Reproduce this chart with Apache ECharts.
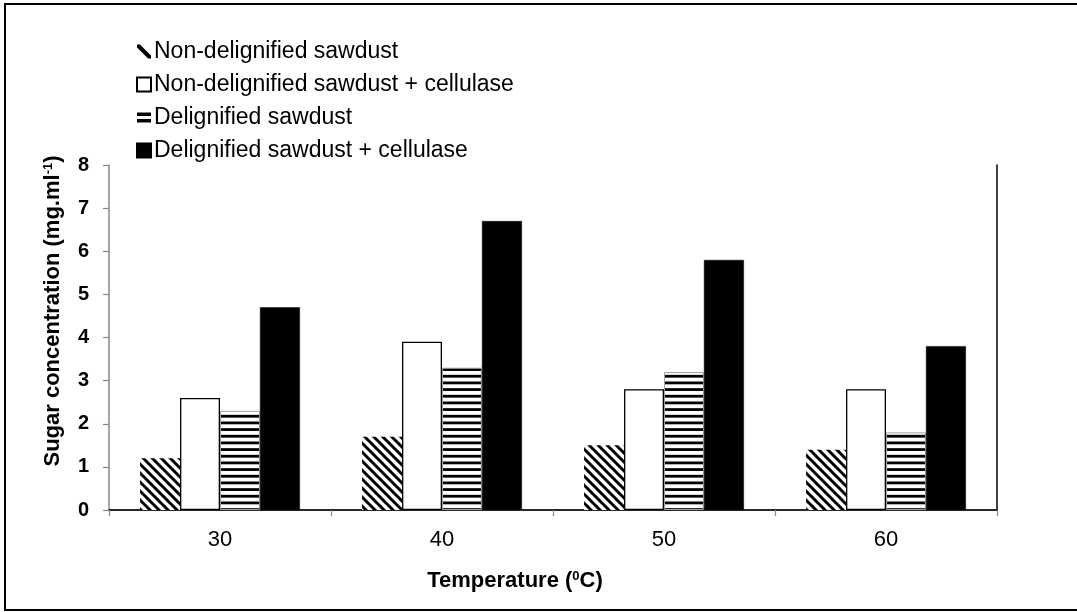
<!DOCTYPE html>
<html>
<head>
<meta charset="utf-8">
<script src="https://cdn.jsdelivr.net/npm/echarts@6/dist/echarts.min.js"></script>
<style>
  html, body { margin: 0; padding: 0; background: #fff; }
  #chart { width: 1077px; height: 612px; }
</style>
</head>
<body>
<div id="chart"></div>
<script>
// Sugar released from sawdust at different incubation temperatures
const temperatures = ['30', '40', '50', '60'];
const nonDelignified = [1.2, 1.7, 1.5, 1.4];
const nonDelignifiedCellulase = [2.6, 3.9, 2.8, 2.8];
const delignified = [2.3, 3.3, 3.2, 1.8];
const delignifiedCellulase = [4.7, 6.7, 5.8, 3.8];
const seriesNames = [
  'Non-delignified sawdust',
  'Non-delignified sawdust + cellulase',
  'Delignified sawdust',
  'Delignified sawdust + cellulase'
];

const FONT = '"Liberation Sans", Arial, sans-serif';

// Diagonal hatching ("\" direction) for the untreated sawdust bars
function diagonalPattern() {
  const s = 9;
  const c = document.createElement('canvas');
  c.width = s; c.height = s;
  const ctx = c.getContext('2d');
  ctx.fillStyle = '#fff';
  ctx.fillRect(0, 0, s, s);
  ctx.strokeStyle = '#000';
  ctx.lineWidth = 3;
  for (let a = -s; a <= s; a += s) {
    ctx.beginPath();
    ctx.moveTo(a - 1, -1);
    ctx.lineTo(a + s + 1, s + 1);
    ctx.stroke();
  }
  return c;
}

// Horizontal stripes for the delignified sawdust bars
function horizontalPattern() {
  const h = 20, w = 4;
  const c = document.createElement('canvas');
  c.width = w; c.height = h;
  const ctx = c.getContext('2d');
  ctx.fillStyle = '#fff';
  ctx.fillRect(0, 0, w, h);
  ctx.fillStyle = '#000';
  const period = h / 3;
  for (let i = 0; i < 3; i++) {
    ctx.fillRect(0, i * period + 1.5, w, 2.8);
  }
  return c;
}

const hatch = { image: diagonalPattern(), repeat: 'repeat' };
const stripes = { image: horizontalPattern(), repeat: 'repeat' };

const chart = echarts.init(document.getElementById('chart'), null, { renderer: 'canvas' });

const barBase = {
  type: 'bar',
  barGap: '0%',
  barCategoryGap: '28%',
  xAxisIndex: 0,
  yAxisIndex: 0
};

chart.setOption({
  animation: false,
  backgroundColor: '#fff',
  textStyle: { fontFamily: FONT },
  legend: {
    orient: 'vertical',
    left: 131,
    top: 35,
    itemWidth: 14,
    itemHeight: 14,
    itemGap: 10,
    icon: 'rect',
    selectedMode: false,
    textStyle: { fontFamily: FONT, fontSize: 23, color: '#000', padding: [0, 0, 0, -2] },
    data: [
      {
        name: seriesNames[0],
        icon: 'path://M0,0 L2.5,0 L12,9.5 L12,12 L9.5,12 L0,2.5 Z',
        itemStyle: { color: '#000', borderWidth: 0 }
      },
      { name: seriesNames[1] },
      {
        name: seriesNames[2],
        icon: 'path://M0,0 H13 V3.2 H0 Z M0,6 H13 V9.2 H0 Z',
        itemStyle: { color: '#000', borderWidth: 0 }
      },
      { name: seriesNames[3] }
    ]
  },
  grid: { left: 109, right: 80, top: 165, bottom: 102, containLabel: false },
  xAxis: [
    {
      type: 'category',
      data: temperatures,
      position: 'bottom',
      axisLine: { lineStyle: { color: '#868686', width: 1.5 } },
      axisTick: { show: true, length: 6, lineStyle: { color: '#868686', width: 1.2 } },
      axisLabel: { fontFamily: FONT, fontSize: 22, color: '#000', margin: 19 }
    },
    {
      type: 'category',
      data: temperatures,
      position: 'top',
      axisLine: { lineStyle: { color: '#000', width: 1.5 } },
      axisTick: { show: false },
      axisLabel: { show: false }
    }
  ],
  yAxis: [
    {
      type: 'value',
      min: 0,
      max: 8,
      interval: 1,
      position: 'left',
      splitLine: { show: false },
      axisLine: { show: true, lineStyle: { color: '#868686', width: 1.5 } },
      axisTick: { show: true, length: 6, lineStyle: { color: '#868686', width: 1.2 } },
      axisLabel: { fontFamily: FONT, fontSize: 20, fontWeight: 'bold', color: '#000', margin: 20 }
    },
    {
      type: 'value',
      min: 0,
      max: 8,
      interval: 1,
      position: 'right',
      splitLine: { show: false },
      axisLine: { show: true, lineStyle: { color: '#000', width: 1.5 } },
      axisTick: { show: false },
      axisLabel: { show: false }
    }
  ],
  series: [
    Object.assign({}, barBase, {
      name: seriesNames[0],
      data: nonDelignified,
      itemStyle: { color: hatch, borderWidth: 0 }
    }),
    Object.assign({}, barBase, {
      name: seriesNames[1],
      data: nonDelignifiedCellulase,
      itemStyle: { color: '#fff', borderColor: '#000', borderWidth: 1.3 }
    }),
    Object.assign({}, barBase, {
      name: seriesNames[2],
      data: delignified,
      itemStyle: { color: stripes, borderColor: '#a0a0a0', borderWidth: 1 }
    }),
    Object.assign({}, barBase, {
      name: seriesNames[3],
      data: delignifiedCellulase,
      itemStyle: { color: '#000', borderColor: '#000', borderWidth: 0.5 }
    })
  ],
  graphic: [
    {
      type: 'rect',
      silent: true,
      shape: { x: 5, y: 4, width: 1080, height: 606 },
      style: { fill: 'none', stroke: '#000', lineWidth: 2 },
      z: 100
    },
    {
      type: 'text',
      silent: true,
      x: 53,
      y: 311,
      rotation: Math.PI / 2,
      style: {
        text: 'Sugar concentration (mg.ml{sup|-1})',
        font: 'bold 22px ' + FONT,
        fill: '#000',
        align: 'center',
        verticalAlign: 'middle',
        rich: {
          sup: { fontSize: 13, fontWeight: 'bold', fontFamily: FONT, verticalAlign: 'top', padding: [0, 0, 8, 0] }
        }
      }
    },
    {
      type: 'text',
      silent: true,
      x: 515,
      y: 581,
      style: {
        text: 'Temperature ({sup|0}C)',
        font: 'bold 22px ' + FONT,
        fill: '#000',
        align: 'center',
        verticalAlign: 'middle',
        rich: {
          sup: { fontSize: 13, fontWeight: 'bold', fontFamily: FONT, verticalAlign: 'top', padding: [0, 0, 8, 0] }
        }
      }
    }
  ]
});
</script>
</body>
</html>
